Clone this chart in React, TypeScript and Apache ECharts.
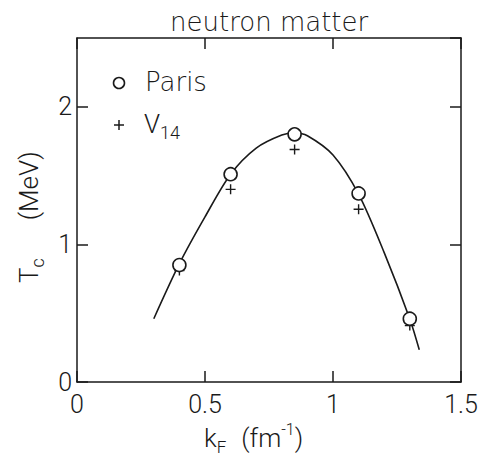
import React, { useEffect, useRef } from "react";
import * as echarts from "echarts";

const parisKF = [0.4, 0.6, 0.85, 1.1, 1.3];
const parisTc = [0.85, 1.51, 1.8, 1.37, 0.46];
const v14KF = [0.4, 0.6, 0.85, 1.1, 1.3];
const v14Tc = [0.81, 1.4, 1.69, 1.255, 0.41];
const curveKF = [0.3, 0.4, 0.5, 0.6, 0.7, 0.8, 0.85, 0.9, 1.0, 1.1, 1.2, 1.3, 1.337];
const curveTc = [0.46, 0.86, 1.2, 1.51, 1.7, 1.795, 1.81, 1.79, 1.65, 1.365, 0.94, 0.458, 0.234];
const xTicks = [0, 0.5, 1, 1.5];
const yTicks = [0, 1, 2];

const NUM = "Roboto";
const TXT = "DejaVu Sans";
const INK = "#1a1a1a";

export default function App() {
  const ref = useRef<HTMLDivElement>(null);
  useEffect(() => {
    const chart = echarts.init(ref.current!, null, { renderer: "svg" });
    const axisCommon = {
      type: "value" as const,
      splitLine: { show: false },
      axisLine: { show: true, onZero: false, lineStyle: { color: INK, width: 1.5 } },
      axisTick: { show: true, inside: true, length: 11, lineStyle: { color: INK, width: 1.5 } },
    };
    const plus = "path://M-0.7,-5H0.7V-0.7H5V0.7H0.7V5H-0.7V0.7H-5V-0.7H-0.7Z";
    chart.setOption({
      animation: false,
      backgroundColor: "#fff",
      grid: { left: 77, right: 23, top: 38, bottom: 77 },
      title: {
        text: "neutron matter",
        left: 165,
        top: 4,
        textStyle: { fontFamily: TXT, fontWeight: 300, fontSize: 26, color: INK },
      },
      xAxis: [
        {
          ...axisCommon,
          position: "bottom",
          min: 0,
          max: 1.5,
          interval: 0.5,
          axisLabel: {
            margin: 10,
            fontFamily: NUM,
            fontWeight: 300,
            fontSize: 25,
            color: INK,
            formatter: (v: number) => (xTicks.includes(v) ? String(v) : ""),
          },
        },
        {
          ...axisCommon,
          position: "top",
          min: 0,
          max: 1.5,
          interval: 0.5,
          axisLabel: { show: false },
        },
      ],
      yAxis: [
        {
          ...axisCommon,
          position: "left",
          min: 0,
          max: 2.5,
          interval: 1,
          axisLabel: {
            margin: 5,
            showMaxLabel: false,
            fontFamily: NUM,
            fontWeight: 300,
            fontSize: 25,
            color: INK,
            formatter: (v: number) => (yTicks.includes(v) ? String(v) : ""),
          },
        },
        {
          ...axisCommon,
          position: "right",
          min: 0,
          max: 2.5,
          interval: 1,
          axisLabel: { show: false },
        },
      ],
      graphic: [
        {
          type: "text",
          x: 204,
          y: 421,
          style: {
            text: "{b|k}{s|F}{g| }{b|(fm}{p|-1}{b|)}",
            fill: INK,
            rich: {
              b: { fontFamily: NUM, fontWeight: 300, fontSize: 26, lineHeight: 34, verticalAlign: "middle", fill: INK },
              g: { fontFamily: NUM, fontSize: 26, lineHeight: 34, width: 15, fill: INK },
              s: { fontFamily: NUM, fontWeight: 300, fontSize: 17, lineHeight: 34, verticalAlign: "bottom", fill: INK },
              p: { fontFamily: NUM, fontWeight: 300, fontSize: 16, lineHeight: 34, verticalAlign: "top", fill: INK },
            },
          },
        },
        {
          type: "text",
          x: 12,
          y: 283,
          rotation: Math.PI / 2,
          style: {
            text: "{b|T}{s|c}{g| }{b|(MeV)}",
            fill: INK,
            rich: {
              b: { fontFamily: NUM, fontWeight: 300, fontSize: 26, lineHeight: 34, verticalAlign: "middle", fill: INK },
              g: { fontFamily: NUM, fontSize: 26, lineHeight: 34, width: 38, fill: INK },
              s: { fontFamily: NUM, fontWeight: 300, fontSize: 18, lineHeight: 34, verticalAlign: "bottom", fill: INK },
            },
          },
        },
        {
          type: "circle",
          shape: { cx: 119, cy: 83, r: 5.5 },
          style: { fill: "none", stroke: INK, lineWidth: 1.6 },
        },
        {
          type: "text",
          x: 145,
          y: 82,
          style: {
            text: "Paris",
            fontFamily: TXT,
            fontWeight: 300,
            fontSize: 26,
            fill: INK,
            verticalAlign: "middle",
          },
        },
        {
          type: "group",
          children: [
            { type: "line", shape: { x1: 114, y1: 125, x2: 124, y2: 125 }, style: { stroke: INK, lineWidth: 1.5 } },
            { type: "line", shape: { x1: 119, y1: 120, x2: 119, y2: 130 }, style: { stroke: INK, lineWidth: 1.5 } },
          ],
        },
        {
          type: "text",
          x: 144,
          y: 124,
          style: {
            text: "{b|V}{s|14}",
            fill: INK,
            rich: {
              b: { fontFamily: NUM, fontWeight: 300, fontSize: 26, lineHeight: 34, verticalAlign: "middle", fill: INK },
              s: { fontFamily: NUM, fontWeight: 300, fontSize: 18, lineHeight: 34, verticalAlign: "bottom", fill: INK },
            },
            verticalAlign: "middle",
          },
        },
      ],
      series: [
        {
          type: "line",
          name: "fit",
          data: curveKF.map((x, i) => [x, curveTc[i]]),
          smooth: 0.3,
          showSymbol: false,
          symbol: "none",
          lineStyle: { color: INK, width: 1.6 },
          z: 2,
        },
        {
          type: "scatter",
          name: "V14",
          data: v14KF.map((x, i) => [x, v14Tc[i]]),
          symbol: plus,
          symbolSize: 10,
          itemStyle: { color: INK, opacity: 1 },
          z: 3,
        },
        {
          type: "scatter",
          name: "Paris",
          data: parisKF.map((x, i) => [x, parisTc[i]]),
          symbol: "circle",
          symbolSize: 13,
          itemStyle: { color: "#fff", borderColor: INK, borderWidth: 1.6, opacity: 1 },
          z: 4,
        },
      ],
    });
    return () => chart.dispose();
  }, []);
  return <div ref={ref} style={{ width: 484, height: 459, position: "absolute", left: 0, top: 0 }} />;
}
